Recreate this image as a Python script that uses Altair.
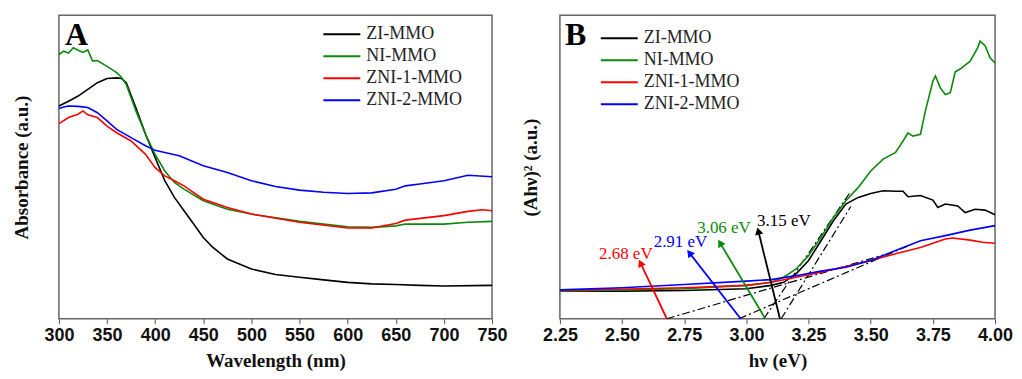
import math
import altair as alt
import pandas as pd

SERIES = ["ZI-MMO", "NI-MMO", "ZNI-1-MMO", "ZNI-2-MMO"]
COLORS = ["#000000", "#0a8a0a", "#ff0000", "#0000ff"]

# ---------------- Panel A : absorbance vs wavelength ----------------
zi_a_x = [300, 310, 320, 330, 340, 350, 360, 365, 370, 380, 390, 400, 410, 420, 430, 440, 450, 460, 475,
          500, 525, 550, 575, 600, 625, 650, 675, 700, 750]
zi_a_y = [70.1, 71.7, 73.4, 75.6, 77.8, 79.2, 79.4, 79.2, 77.8, 69.5, 60.8, 53.1, 45.5, 40.0, 35.6, 31.2, 26.8,
          23.5, 19.7, 16.4, 14.6, 13.7, 12.8, 12.0, 11.5, 11.3, 11.0, 10.8, 11.0]

ni_a_x = [300, 305, 310, 315, 320, 325, 330, 335, 340, 350, 360, 365, 370, 380, 390, 400, 410, 420, 430, 450,
          475, 500, 550, 600, 625, 650, 660, 700, 725, 750]
ni_a_y = [87.1, 88.2, 87.6, 89.3, 88.5, 87.8, 88.6, 84.9, 85.1, 83.2, 81.1, 79.6, 77.2, 68.5, 60.8, 54.2, 48.7,
          44.9, 42.7, 38.9, 36.1, 34.5, 32.1, 30.3, 30.1, 30.6, 31.2, 31.2, 31.8, 32.1]

zni1_a_x = [300, 310, 320, 325, 330, 340, 350, 360, 375, 390, 400, 410, 420, 430, 450, 475, 500, 550, 600, 625,
            650, 660, 700, 725, 740, 750]
zni1_a_y = [64.3, 66.3, 67.4, 68.5, 67.2, 66.3, 63.5, 61.3, 58.6, 54.2, 49.8, 47.1, 45.5, 43.8, 39.4, 36.7, 34.5,
            31.8, 29.9, 29.9, 31.4, 32.5, 34.0, 35.4, 35.9, 35.6]

zni2_a_x = [300, 305, 310, 320, 330, 340, 350, 360, 375, 390, 400, 410, 425, 450, 475, 500, 525, 550, 575, 600,
            625, 650, 660, 675, 700, 725, 750]
zni2_a_y = [69.3, 69.8, 70.1, 70.0, 69.6, 67.9, 65.2, 62.4, 59.7, 57.0, 55.5, 54.8, 53.7, 50.4, 48.2, 45.5, 43.6,
            42.4, 41.7, 41.3, 41.5, 42.7, 43.8, 44.4, 45.5, 47.3, 46.8]

# ---------------- Panel B : Tauc plot ----------------
zi_b_x = [2.25, 2.5, 2.75, 3.0, 3.1, 3.15, 3.2, 3.25, 3.3, 3.35, 3.4, 3.45, 3.5, 3.55, 3.6, 3.63, 3.65, 3.7,
          3.75, 3.77, 3.8, 3.85, 3.88, 3.92, 3.96, 4.0]
zi_b_y = [9.1, 9.1, 9.3, 9.9, 11.0, 12.0, 14.8, 19.2, 25.7, 32.3, 37.8, 40.0, 41.3, 42.2, 42.0, 42.0, 40.2, 40.6,
          39.1, 36.7, 37.8, 37.2, 35.0, 36.1, 35.8, 34.3]

ni_b_x = [2.25, 2.75, 3.0, 3.1, 3.15, 3.2, 3.25, 3.3, 3.35, 3.4, 3.45, 3.5, 3.55, 3.6, 3.63, 3.65, 3.67, 3.7,
          3.72, 3.75, 3.76, 3.78, 3.8, 3.82, 3.84, 3.86, 3.9, 3.93, 3.94, 3.96, 3.98, 4.0]
ni_b_y = [9.1, 9.9, 11.0, 12.0, 13.7, 16.4, 20.8, 26.8, 33.4, 38.9, 43.3, 48.7, 52.6, 54.8, 58.6, 61.3, 60.2,
          60.8, 68.5, 78.3, 80.0, 76.1, 73.9, 74.5, 81.4, 82.3, 84.9, 89.3, 91.5, 90.0, 86.0, 84.3]

zni1_b_x = [2.25, 2.75, 3.0, 3.1, 3.2, 3.3, 3.4, 3.5, 3.6, 3.7, 3.8, 3.83, 3.9, 3.95, 4.0]
zni1_b_y = [9.3, 10.2, 11.0, 12.0, 13.7, 15.3, 17.2, 19.2, 21.4, 23.5, 26.3, 26.6, 25.9, 25.2, 24.9]

zni2_b_x = [2.25, 2.5, 2.75, 3.0, 3.1, 3.2, 3.3, 3.4, 3.5, 3.6, 3.7, 3.8, 3.9, 4.0]
zni2_b_y = [9.5, 10.2, 11.3, 12.4, 12.9, 14.2, 15.7, 17.0, 19.2, 22.5, 25.7, 27.4, 29.2, 30.7]

# tangent (extrapolation) lines: start on the baseline, end on the curve
tan_x0 = [2.68, 2.97, 3.07, 3.14]
tan_y0 = [0, 0, 0, 0]
tan_x1 = [3.55, 3.65, 3.42, 3.42]
tan_y1 = [21.0, 24.0, 42.0, 37.0]

# band-gap arrows and labels
gap_series = ["ZNI-1-MMO", "ZNI-2-MMO", "NI-MMO", "ZI-MMO"]
gap_text = ["2.68 eV", "2.91 eV", "3.06 eV", "3.15 eV"]
arrow_x0 = [2.68, 2.977, 3.076, 3.135]
arrow_y0 = [0, 0, 0, 0]
arrow_x1 = [2.574, 2.771, 2.894, 3.048]
arrow_y1 = [18.4, 21.7, 25.0, 28.9]
label_x = [2.515, 2.735, 2.91, 3.151]
label_y = [21.2, 25.4, 30.0, 32.2]

# ---------------- layout constants ----------------
WA, WB, H = 434, 436, 304
XA = [300, 750]
XB = [2.25, 4.0]
YD = [0, 100]
SERIF = "Liberation Serif"


def frame(pairs):
    rows = []
    for name, xs, ys in pairs:
        for x, y in zip(xs, ys):
            rows.append({"x": x, "y": y, "s": name})
    return pd.DataFrame(rows)


df_a = frame([("ZI-MMO", zi_a_x, zi_a_y), ("NI-MMO", ni_a_x, ni_a_y),
              ("ZNI-1-MMO", zni1_a_x, zni1_a_y), ("ZNI-2-MMO", zni2_a_x, zni2_a_y)])
df_b = frame([("ZI-MMO", zi_b_x, zi_b_y), ("NI-MMO", ni_b_x, ni_b_y),
              ("ZNI-1-MMO", zni1_b_x, zni1_b_y), ("ZNI-2-MMO", zni2_b_x, zni2_b_y)])

df_tan = pd.DataFrame({"x": tan_x0, "y": tan_y0, "x2": tan_x1, "y2": tan_y1})

pxx = WB / (XB[1] - XB[0])
pxy = H / (YD[1] - YD[0])
angles = []
for a, b, c, d in zip(arrow_x0, arrow_y0, arrow_x1, arrow_y1):
    ang = math.degrees(math.atan2((c - a) * pxx, (d - b) * pxy))
    angles.append(ang % 360)
df_arr = pd.DataFrame({"x": arrow_x0, "y": arrow_y0, "x2": arrow_x1, "y2": arrow_y1,
                       "s": gap_series, "ang": angles})
df_lab = pd.DataFrame({"x": label_x, "y": label_y, "s": gap_series, "t": gap_text})

color_scale = alt.Scale(domain=SERIES, range=COLORS)


def legend(lx, ly):
    return alt.Legend(title=None, orient="none", legendX=lx, legendY=ly, symbolType="stroke",
                      symbolSize=1369, symbolStrokeWidth=2, labelFont=SERIF, labelFontSize=18,
                      labelColor="#222", clipHeight=16, rowPadding=4, labelOffset=5, padding=0)


yA = alt.Y("y:Q", scale=alt.Scale(domain=YD, nice=False),
           axis=alt.Axis(title="Absorbance (a.u.)", ticks=False, labels=False, titlePadding=27))
yB = alt.Y("y:Q", scale=alt.Scale(domain=YD, nice=False),
           axis=alt.Axis(title="(Ahν)² (a.u.)", ticks=False, labels=False, titlePadding=19))

xA = alt.X("x:Q", scale=alt.Scale(domain=XA, nice=False),
           axis=alt.Axis(values=list(range(300, 751, 50)), title="Wavelength (nm)", format="d"))
xB = alt.X("x:Q", scale=alt.Scale(domain=XB, nice=False),
           axis=alt.Axis(values=[2.25 + 0.125 * i for i in range(15)], title="hν  (eV)",
                         labelExpr="round(datum.value*8) % 2 == 0 ? format(datum.value, '.2f') : ''"))

lines_a = alt.Chart(df_a).mark_line(strokeWidth=1.6).encode(
    x=xA, y=yA, color=alt.Color("s:N", scale=color_scale, sort=SERIES, legend=legend(264, 11)),
    order=alt.Order("x:Q"))

letter_a = alt.Chart(pd.DataFrame({"t": ["A"]})).mark_text(
    font=SERIF, fontSize=32, fontWeight="bold", align="left", baseline="top", color="#000").encode(
    text="t:N", x=alt.value(6), y=alt.value(5))

panel_a = alt.layer(lines_a, letter_a).properties(width=WA, height=H)

tangents = alt.Chart(df_tan).mark_rule(color="#000", strokeWidth=1.2, strokeDash=[8, 3, 2, 3]).encode(
    x=alt.X("x:Q", scale=alt.Scale(domain=XB, nice=False)), y="y:Q", x2="x2:Q", y2="y2:Q")

lines_b = alt.Chart(df_b).mark_line(strokeWidth=1.6).encode(
    x=xB, y=yB, color=alt.Color("s:N", scale=color_scale, sort=SERIES, legend=legend(40, 15)),
    order=alt.Order("x:Q"))

arrows = alt.Chart(df_arr).mark_rule(strokeWidth=1.8).encode(
    x="x:Q", y="y:Q", x2="x2:Q", y2="y2:Q",
    color=alt.Color("s:N", scale=color_scale, legend=None))

heads = alt.Chart(df_arr).mark_point(shape="triangle-up", filled=True, size=70, opacity=1).encode(
    x="x2:Q", y="y2:Q", angle=alt.Angle("ang:Q", scale=None),
    color=alt.Color("s:N", scale=color_scale, legend=None))

labels = alt.Chart(df_lab).mark_text(font=SERIF, fontSize=17).encode(
    x="x:Q", y="y:Q", text="t:N", color=alt.Color("s:N", scale=color_scale, legend=None))

letter_b = alt.Chart(pd.DataFrame({"t": ["B"]})).mark_text(
    font=SERIF, fontSize=32, fontWeight="bold", align="left", baseline="top", color="#000").encode(
    text="t:N", x=alt.value(5), y=alt.value(5))

panel_b = alt.layer(tangents, lines_b, arrows, heads, labels, letter_b).properties(width=WB, height=H)

chart = alt.hconcat(panel_a, panel_b, spacing=13).resolve_scale(color="independent").properties(
    padding={"left": 4, "top": 6, "right": 0, "bottom": 0}
).configure_view(stroke="#666", strokeWidth=1.5).configure_axis(
    labelFont="Liberation Sans", labelFontWeight="bold", labelFontSize=18, labelColor="#111",
    titleFont=SERIF, titleFontWeight="bold", titleFontSize=19, titleColor="#111",
    tickColor="#555", tickSize=5, grid=False, domain=False, labelFlush=False, labelPadding=3,
    titlePadding=7)

chart.save("out.html", embed_options={"renderer": "svg", "actions": False})
